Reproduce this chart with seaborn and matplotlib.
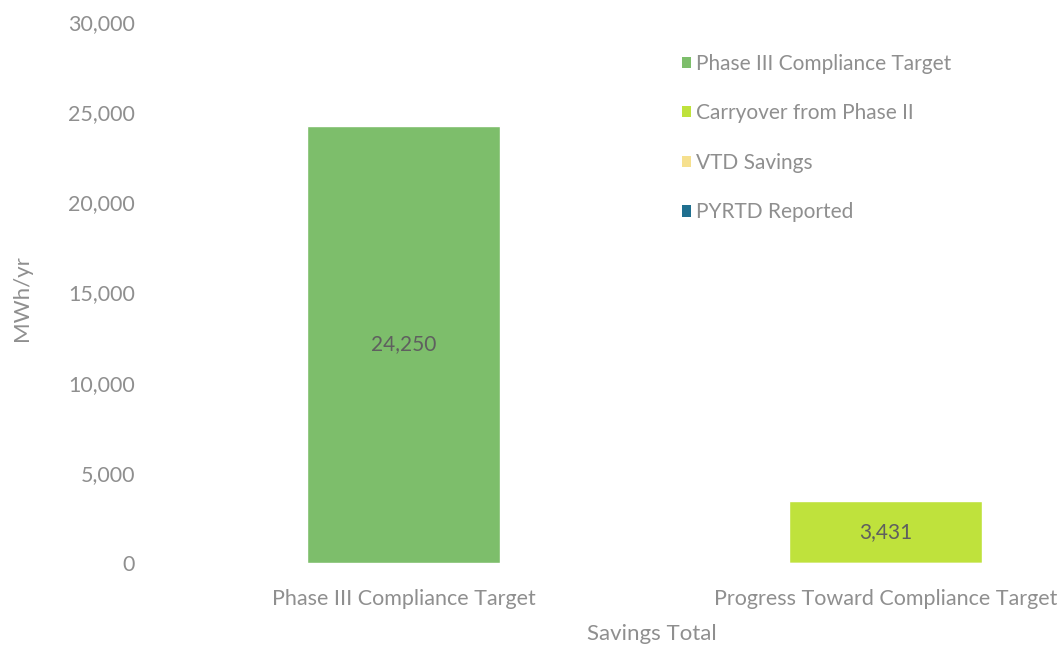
import seaborn as sns
import matplotlib.pyplot as plt
from matplotlib.patches import Patch
from matplotlib.ticker import FuncFormatter
import numpy as np

# ----------------------------------------------------
# Data (MWh/yr)
# ----------------------------------------------------
categories = ["Phase III Compliance Target", "Progress Toward Compliance Target"]
series_names = ["Phase III Compliance Target", "Carryover from Phase II",
                "VTD Savings", "PYRTD Reported"]
phase3_target = [24250, 0]
carryover = [0, 3431]
vtd_savings = [0, 0]
pyrtd_reported = [0, 0]

series_colors = ["#7dbe6b", "#bfe23c", "#f6e08e", "#1f6f8f"]

# ----------------------------------------------------
# Style
# ----------------------------------------------------
sns.set_style("white")
plt.rcParams["font.family"] = ["Lato", "DejaVu Sans"]
grey = "#8f8f8f"

fig = plt.figure(figsize=(10.64, 6.47), dpi=100)
ax = fig.add_axes([0.1532, 0.1298, 0.8468, 0.8362])

# stacked bars: draw cumulative totals from the top layer down
layers = [phase3_target, carryover, vtd_savings, pyrtd_reported]
cum = np.cumsum(np.array(layers), axis=0)
for i in range(len(layers) - 1, -1, -1):
    sns.barplot(x=categories, y=cum[i], color=series_colors[i],
                saturation=1, width=0.4, ax=ax)

# value labels in the middle of each non-empty segment
for i, vals in enumerate(layers):
    for j, v in enumerate(vals):
        if v > 0:
            ax.text(j, cum[i][j] - v / 2, f"{v:,}", ha="center", va="center",
                    fontsize=15, color="#5f5f5f")

ax.set_ylim(0, 30000)
ax.set_xlim(-0.5, 1.371)
ax.set_yticks(range(0, 30001, 5000))
ax.yaxis.set_major_formatter(FuncFormatter(lambda v, p: f"{int(v):,}"))
ax.tick_params(axis="both", length=0, labelsize=15.5, colors=grey)
ax.tick_params(axis="y", pad=20)
ax.tick_params(axis="x", pad=19)
for s in ax.spines.values():
    s.set_visible(False)

ax.set_ylabel("MWh/yr", fontsize=16, color=grey)
ax.yaxis.set_label_coords(-0.145, 0.49)
ax.set_xlabel("Savings Total", fontsize=16, color=grey)
ax.xaxis.set_label_coords(0.543, -0.113)

handles = [Patch(facecolor=c, edgecolor="none") for c in series_colors]
ax.legend(handles, series_names, loc="upper left", bbox_to_anchor=(0.555, 0.976),
          frameon=False, fontsize=15, labelcolor=grey, handlelength=0.45,
          handleheight=0.45, handletextpad=0.25, labelspacing=1.42)

fig.savefig("out.png", dpi=100)
plt.close(fig)
